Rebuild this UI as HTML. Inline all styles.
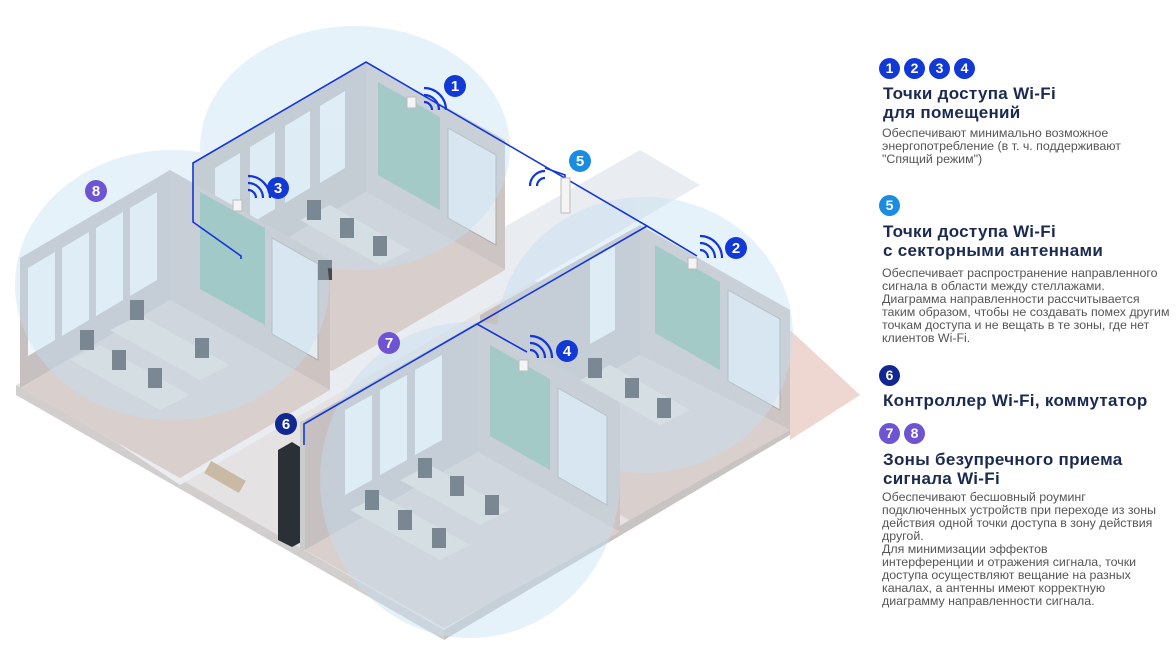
<!DOCTYPE html>
<html><head><meta charset="utf-8">
<style>
html,body{margin:0;padding:0;background:#fff;}
body{width:1176px;height:653px;position:relative;overflow:hidden;font-family:"Liberation Sans",sans-serif;}
svg{position:absolute;left:0;top:0;}
.panel{position:absolute;left:879px;top:0;width:297px;}
.b{display:inline-block;width:21px;height:21px;border-radius:50%;background:#1239d6;color:#fff;font:bold 14px/21px "Liberation Sans",sans-serif;text-align:center;margin-right:4px;}
.h{position:absolute;left:4px;color:#1b2a50;font-weight:bold;font-size:17px;line-height:19px;white-space:nowrap;letter-spacing:0.3px;}
.t{position:absolute;left:3px;color:#555;font-size:12.4px;line-height:13px;white-space:nowrap;}
.row{position:absolute;left:0;}
</style></head><body>
<svg width="1176" height="653" viewBox="0 0 1176 653">
<polygon points="790,330 860,395 790,440" fill="#e8cdc4" opacity="0.8"/>
<polygon points="16,385 366,185 790,425 444,630" fill="#e4e2e3"/>
<polygon points="16,385 444,630 444,640 16,395" fill="#d2cece"/>
<polygon points="444,630 790,425 790,435 444,640" fill="#c8c4c4"/>
<polygon points="120,445 640,150 700,185 180,485" fill="#e9ecf0"/>
<!-- Room A -->
<polygon points="193,163 366,62 366,192 193,293" fill="#c4bebf"/>
<polygon points="366,62 505,140 505,270 366,192" fill="#cdc5c3"/>
<polygon points="193,293 366,192 505,270 332,371" fill="#d8cecc"/>
<polygon points="215,168 240,153 240,230 215,245" fill="#f2f6f9"/>
<polygon points="250,147 275,132 275,209 250,224" fill="#f2f6f9"/>
<polygon points="285,126 310,111 310,188 285,203" fill="#f2f6f9"/>
<polygon points="320,106 345,91 345,168 320,183" fill="#f2f6f9"/>
<polygon points="378,82 440,117 440,210 378,175" fill="#8dbaaa"/>
<polygon points="448,128 496,155 496,245 448,218" fill="#e6ebef" stroke="#aaa"/>
<!-- Room 8 -->
<polygon points="20,258 170,170 170,300 20,388" fill="#c6c0c1"/>
<polygon points="170,170 330,260 330,390 170,300" fill="#cdc4c2"/>
<polygon points="20,388 170,300 330,390 180,478" fill="#d9cfcd"/>
<polygon points="28,268 55,252 55,340 28,356" fill="#f2f6f9"/>
<polygon points="62,248 89,232 89,320 62,336" fill="#f2f6f9"/>
<polygon points="96,228 123,212 123,300 96,316" fill="#f2f6f9"/>
<polygon points="130,208 157,192 157,280 130,296" fill="#f2f6f9"/>
<polygon points="200,192 265,228 265,325 200,289" fill="#88b9a9"/>
<polygon points="272,238 318,264 318,360 272,334" fill="#e6ebef" stroke="#aaa"/>
<!-- Room 2 -->
<polygon points="480,315 640,225 640,355 480,445" fill="#c6c0c1"/>
<polygon points="640,225 790,310 790,430 640,355" fill="#cdc5c3"/>
<polygon points="480,445 640,355 790,430 630,520" fill="#d9cfcd"/>
<polygon points="655,245 720,282 720,370 655,333" fill="#8dbaaa"/>
<polygon points="728,290 780,319 780,410 728,381" fill="#e6ebef" stroke="#aaa"/>
<polygon points="590,260 615,246 615,330 590,344" fill="#f2f6f9"/>
<!-- Room 4 -->
<polygon points="305,420 478,322 478,452 305,550" fill="#c6c0c1"/>
<polygon points="478,322 620,402 620,532 478,452" fill="#cdc4c2"/>
<polygon points="305,550 478,452 620,532 444,628" fill="#d9cfcd"/>
<polygon points="345,410 372,395 372,480 345,495" fill="#f2f6f9"/>
<polygon points="380,390 407,375 407,460 380,475" fill="#f2f6f9"/>
<polygon points="415,370 442,355 442,440 415,455" fill="#f2f6f9"/>
<polygon points="490,345 550,379 550,470 490,436" fill="#8dbaaa"/>
<polygon points="558,388 607,416 607,505 558,477" fill="#e6ebef" stroke="#aaa"/>
<g fill="#e2ddd8">
<polygon points="110,330 200,380 230,365 140,315"/>
<polygon points="70,360 160,410 190,395 100,345"/>
<polygon points="300,220 380,265 410,250 330,205"/>
<polygon points="580,380 660,425 690,410 610,365"/>
<polygon points="350,510 440,560 470,545 380,495"/>
<polygon points="400,480 480,525 510,510 430,465"/>
</g>
<g fill="#45484e">
<rect x="130" y="300" width="14" height="20"/><rect x="195" y="338" width="14" height="20"/>
<rect x="80" y="330" width="14" height="20"/><rect x="112" y="350" width="14" height="20"/><rect x="148" y="368" width="14" height="20"/>
<rect x="307" y="200" width="14" height="20"/><rect x="340" y="218" width="14" height="20"/><rect x="373" y="236" width="14" height="20"/><rect x="318" y="260" width="14" height="20"/>
<rect x="588" y="358" width="14" height="20"/><rect x="625" y="378" width="14" height="20"/><rect x="657" y="398" width="14" height="20"/>
<rect x="418" y="458" width="14" height="20"/><rect x="450" y="476" width="14" height="20"/><rect x="485" y="495" width="14" height="20"/>
<rect x="365" y="490" width="14" height="20"/><rect x="398" y="510" width="14" height="20"/><rect x="432" y="528" width="14" height="20"/>
</g>
<polygon points="278,450 292,442 305,450 305,540 292,547 278,540" fill="#2b2f36"/>
<polygon points="300,422 305,420 305,550 300,552" fill="#ccc"/>
<rect x="205" y="470" width="40" height="14" fill="#c9b9a5" transform="rotate(30 225 477)"/>
<g fill="#c4e0f3" opacity="0.42">
<ellipse cx="355" cy="148" rx="155" ry="122"/>
<ellipse cx="172" cy="285" rx="157" ry="135"/>
<ellipse cx="645" cy="335" rx="148" ry="138"/>
<ellipse cx="470" cy="480" rx="150" ry="158"/>
</g>
<g stroke="#1436d6" stroke-width="1.6" fill="none">
<polyline points="241,259 241,256 193,222 193,163 366,62 647,226 697,256"/>
<polyline points="647,226 477,324 527,352"/>
<polyline points="477,324 304,424 304,445"/>
<polyline points="545,168 565,175 565,195"/>
</g>
<g stroke="#1436d6" stroke-width="2.2" fill="none">
<path d="M424,102 a8,8 0 0 1 8,8 M424,95 a15,15 0 0 1 15,15 M424,88 a22,22 0 0 1 22,22"/>
<path d="M248,190 a8,8 0 0 1 8,8 M248,183 a15,15 0 0 1 15,15 M248,176 a22,22 0 0 1 22,22"/>
<path d="M700,250 a8,8 0 0 1 8,8 M700,243 a15,15 0 0 1 15,15 M700,236 a22,22 0 0 1 22,22"/>
<path d="M530,350 a8,8 0 0 1 8,8 M530,343 a15,15 0 0 1 15,15 M530,336 a22,22 0 0 1 22,22"/>
<path d="M545,178 a8,8 0 0 0 -8,8 M545,171 a15,15 0 0 0 -15,15"/>
</g>
<g fill="#f4f4f4" stroke="#bbb"><rect x="407" y="97" width="9" height="11"/><rect x="233" y="200" width="9" height="11"/><rect x="688" y="258" width="9" height="11"/><rect x="519" y="360" width="9" height="11"/><rect x="561" y="178" width="9" height="35"/></g>
<g font-family="Liberation Sans" font-weight="bold" font-size="15" fill="#fff" text-anchor="middle">
<circle cx="455" cy="86" r="11" fill="#1239d6"/><text x="455" y="91">1</text>
<circle cx="736" cy="248" r="11" fill="#1239d6"/><text x="736" y="253">2</text>
<circle cx="278" cy="188" r="11" fill="#1239d6"/><text x="278" y="193">3</text>
<circle cx="567" cy="351" r="11" fill="#1239d6"/><text x="567" y="356">4</text>
<circle cx="580" cy="161" r="11" fill="#1a8de2"/><text x="580" y="166">5</text>
<circle cx="286" cy="424" r="11" fill="#10288f"/><text x="286" y="429">6</text>
<circle cx="389" cy="343" r="11" fill="#6e54d2"/><text x="389" y="348">7</text>
<circle cx="96" cy="191" r="11" fill="#6e54d2"/><text x="96" y="196">8</text>
</g>
</svg>
<div class="panel">
<div class="row" style="top:58px;"><span class="b">1</span><span class="b">2</span><span class="b">3</span><span class="b">4</span></div>
<div class="h" style="top:84px;">Точки доступа Wi-Fi<br>для помещений</div>
<div class="t" style="top:127px;">Обеспечивают минимально возможное<br>энергопотребление (в т. ч. поддерживают<br>"Спящий режим")</div>
<div class="row" style="top:195px;"><span class="b" style="background:#1a8de2">5</span></div>
<div class="h" style="top:222px;">Точки доступа Wi-Fi<br>с секторными антеннами</div>
<div class="t" style="top:267px;">Обеспечивает  распространение направленного<br>сигнала в области между стеллажами.<br>Диаграмма направленности рассчитывается<br>таким образом, чтобы не создавать помех другим<br>точкам доступа и не вещать в те зоны, где нет<br>клиентов Wi-Fi.</div>
<div class="row" style="top:365px;"><span class="b" style="background:#10288f">6</span></div>
<div class="h" style="top:391px;">Контроллер Wi-Fi, коммутатор</div>
<div class="row" style="top:423px;"><span class="b" style="background:#6e54d2">7</span><span class="b" style="background:#6e54d2">8</span></div>
<div class="h" style="top:450px;">Зоны безупречного приема<br>сигнала Wi-Fi</div>
<div class="t" style="top:491px;">Обеспечивают бесшовный роуминг<br>подключенных устройств при переходе из зоны<br>действия одной точки доступа в зону действия<br>другой.<br>Для минимизации эффектов<br>интерференции и отражения сигнала, точки<br>доступа осуществляют вещание на разных<br>каналах, а антенны имеют корректную<br>диаграмму направленности сигнала.</div>
</div>
</body></html>
